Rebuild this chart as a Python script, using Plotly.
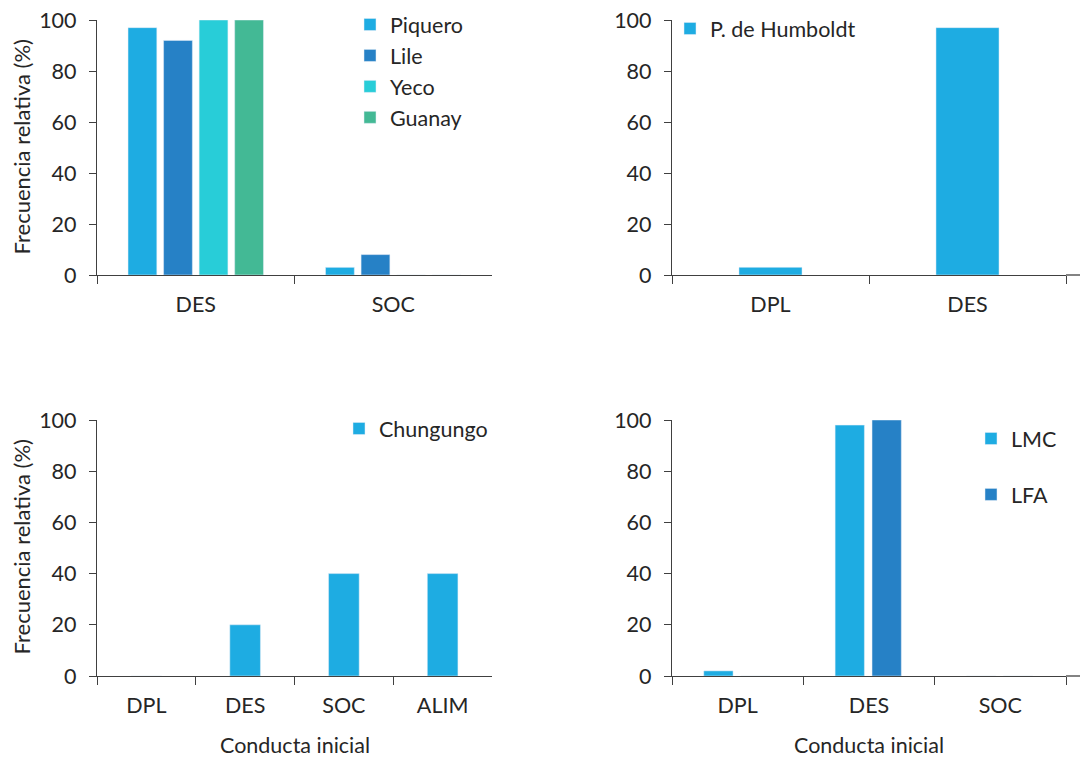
import plotly.graph_objects as go

# ---- data ----
cats_tl = ["DES", "SOC"]
piquero = [97, 3]
lile = [92, 8]
yeco = [100, 0]
guanay = [100, 0]

cats_tr = ["DPL", "DES"]
humboldt = [3, 97]

cats_bl = ["DPL", "DES", "SOC", "ALIM"]
chungungo = [0, 20, 40, 40]

cats_br = ["DPL", "DES", "SOC"]
lmc = [2, 98, 0]
lfa = [0, 100, 0]

y_ticks = [0, 20, 40, 60, 80, 100]

# ---- styles ----
W, H = 1080, 757
FONT = "Lato"
FS = 21.5
TXT = "#262626"
AX = "#404040"
C_LIGHT = "#1EACE2"
C_DARK = "#2681C6"
C_CYAN = "#28CDD8"
C_GREEN = "#43B995"


def px_x(p):
    return p / W


def px_y(p):
    return 1 - p / H


fig = go.Figure()

# top-left panel
for name, vals, col in [("Piquero", piquero, C_LIGHT), ("Lile", lile, C_DARK),
                        ("Yeco", yeco, C_CYAN), ("Guanay", guanay, C_GREEN)]:
    fig.add_trace(go.Bar(x=cats_tl, y=vals, name=name, marker_color=col,
                         xaxis="x", yaxis="y", legend="legend", legendgroup=name))

# top-right panel
fig.add_trace(go.Bar(x=cats_tr, y=humboldt, name="P. de Humboldt", marker_color=C_LIGHT,
                     width=0.32, offset=-0.16, xaxis="x2", yaxis="y2",
                     legend="legend2", legendgroup="hum"))

# bottom-left panel
fig.add_trace(go.Bar(x=cats_bl, y=chungungo, name="Chungungo", marker_color=C_LIGHT,
                     width=0.31, offset=-0.155, xaxis="x3", yaxis="y3",
                     legend="legend3", legendgroup="chu"))

# bottom-right panel
fig.add_trace(go.Bar(x=cats_br, y=lmc, name="LMC", marker_color=C_LIGHT,
                     width=0.223, offset=-0.258, xaxis="x4", yaxis="y4",
                     legend="legend4", legendgroup="lmc"))
fig.add_trace(go.Bar(x=cats_br, y=lfa, name="LFA", marker_color=C_DARK,
                     width=0.223, offset=0.023, xaxis="x4", yaxis="y4",
                     legend="legend4", legendgroup="lfa"))

xdom_left = [px_x(97), px_x(492)]
xdom_right = [px_x(672), px_x(1066)]
ydom_top = [px_y(275), px_y(20)]
ydom_bot = [px_y(676), px_y(420)]

xcommon = dict(type="category", showline=True, linecolor=AX, linewidth=1.3,
               ticks="outside", tickson="boundaries", ticklen=8, tickcolor=AX,
               tickwidth=1.3, showgrid=False, zeroline=False, automargin=False,
               tickfont=dict(family=FONT, size=FS, color=TXT), ticklabelstandoff=10)
ycommon = dict(range=[0, 100], tickvals=y_ticks, showline=True, linecolor=AX,
               linewidth=1.3, ticks="outside", ticklen=7, tickcolor=AX, tickwidth=1.3,
               showgrid=False, zeroline=False, automargin=False,
               tickfont=dict(family=FONT, size=FS, color=TXT), ticklabelstandoff=8)

legcommon = dict(font=dict(family=FONT, size=FS, color=TXT), bgcolor="rgba(0,0,0,0)",
                 xanchor="left", yanchor="top", traceorder="grouped")

fig.update_layout(
    width=W, height=H,
    margin=dict(l=0, r=0, t=0, b=0, autoexpand=False),
    paper_bgcolor="white", plot_bgcolor="white",
    barmode="group", bargap=0.28, bargroupgap=0.19,
    font=dict(family=FONT, size=FS, color=TXT),
    xaxis=dict(domain=xdom_left, anchor="y", **xcommon),
    yaxis=dict(domain=ydom_top, anchor="x", **ycommon),
    xaxis2=dict(domain=xdom_right, anchor="y2", **xcommon),
    yaxis2=dict(domain=ydom_top, anchor="x2", **ycommon),
    xaxis3=dict(domain=xdom_left, anchor="y3", **xcommon),
    yaxis3=dict(domain=ydom_bot, anchor="x3", **ycommon),
    xaxis4=dict(domain=xdom_right, anchor="y4", **xcommon),
    yaxis4=dict(domain=ydom_bot, anchor="x4", **ycommon),
    legend=dict(x=px_x(350), y=px_y(4), tracegroupgap=0, **legcommon),
    legend2=dict(x=px_x(670), y=px_y(8), **legcommon),
    legend3=dict(x=px_x(339), y=px_y(408), **legcommon),
    legend4=dict(x=px_x(971), y=px_y(418), tracegroupgap=25, **legcommon),
    showlegend=True,
)

# right-hand baselines run on to the edge of the figure
for ydom in (ydom_top, ydom_bot):
    fig.add_shape(type="line", xref="paper", yref="paper",
                  x0=xdom_right[1], x1=1, y0=ydom[0], y1=ydom[0],
                  line=dict(color=AX, width=1.3), layer="above")

# axis titles
ytitle = "Frecuencia relativa (%)"
xtitle = "Conducta inicial"
for yc in (147.5, 547.5):
    fig.add_annotation(text=ytitle, x=px_x(21), y=px_y(yc), xref="paper", yref="paper",
                       textangle=-90, showarrow=False, xanchor="center", yanchor="middle",
                       font=dict(family=FONT, size=22, color=TXT))
for xc in (295, 869):
    fig.add_annotation(text=xtitle, x=px_x(xc), y=px_y(745), xref="paper", yref="paper",
                       showarrow=False, xanchor="center", yanchor="middle",
                       font=dict(family=FONT, size=FS, color=TXT))

fig.write_html("out.html")
